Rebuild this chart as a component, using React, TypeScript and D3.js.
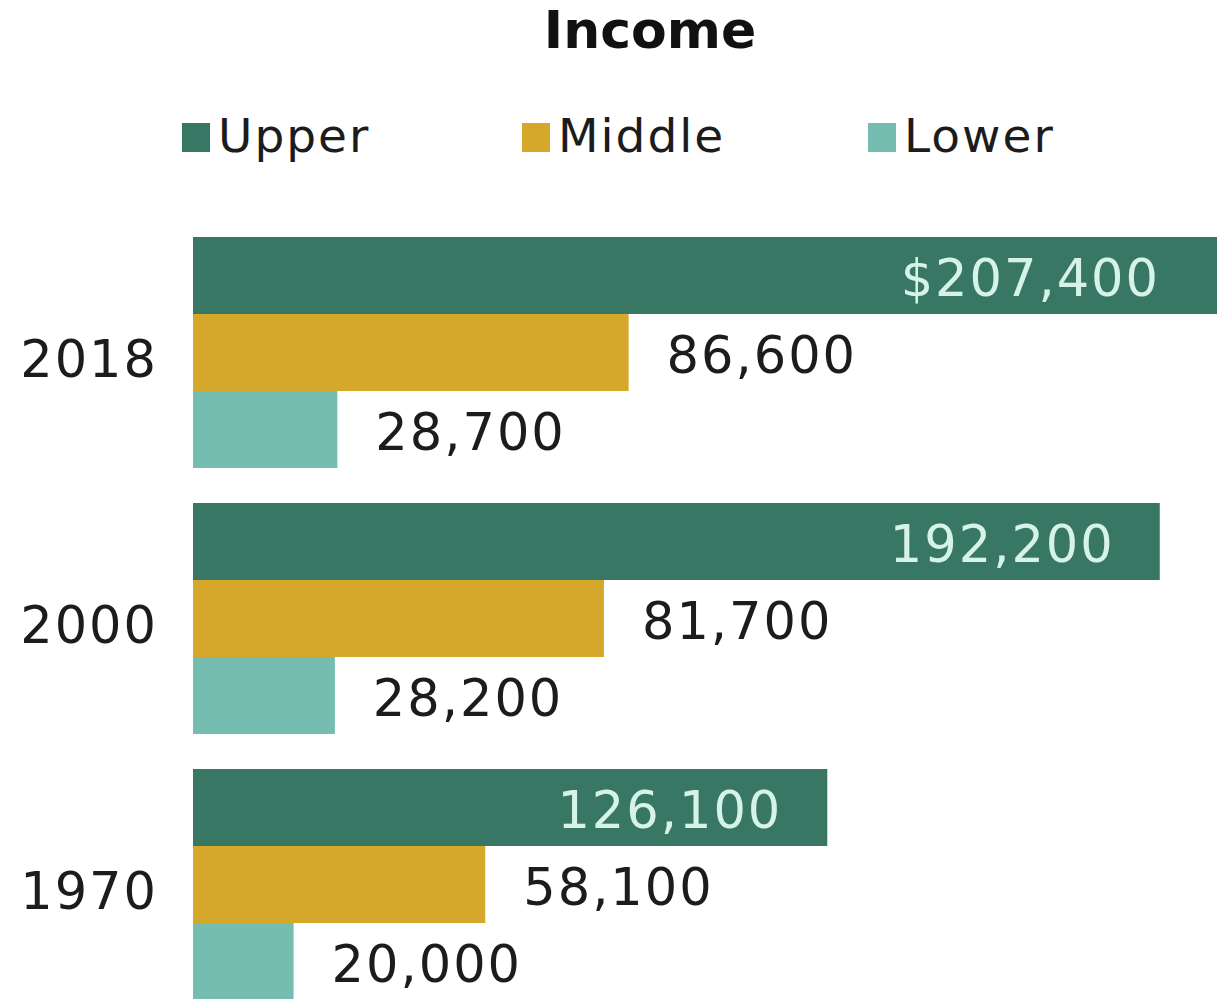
import React from "react";
import * as d3 from "d3";

const years = ["2018", "2000", "1970"];
const series = ["Upper", "Middle", "Lower"];
const upperValues = [207400, 192200, 126100];
const middleValues = [86600, 81700, 58100];
const lowerValues = [28700, 28200, 20000];
const upperLabels = ["$207,400", "192,200", "126,100"];
const middleLabels = ["86,600", "81,700", "58,100"];
const lowerLabels = ["28,700", "28,200", "20,000"];
const colors = ["#397765", "#d5a82b", "#74bdb0"];

const W = 1217;
const H = 999;
const FONT = "'DejaVu Sans', Verdana, sans-serif";

export default function App() {
  const x = d3.scaleLinear().domain([0, 200000]).range([193, 1199]);
  const y = d3
    .scaleBand<string>()
    .domain(years)
    .range([237, 237 + 3 * 266 - 35])
    .paddingInner(35 / 266)
    .paddingOuter(0);
  const inner = d3.scaleBand<string>().domain(series).range([0, y.bandwidth()]);

  const valuesBySeries = [upperValues, middleValues, lowerValues];
  const labelsBySeries = [upperLabels, middleLabels, lowerLabels];

  const legendX = [182, 522, 868];
  const visibleRight = 1205;

  return (
    <svg
      width={W}
      height={H}
      style={{ position: "absolute", left: 0, top: 0, display: "block", background: "#fff" }}
    >
      <text
        x={650}
        y={48}
        textAnchor="middle"
        fontFamily={FONT}
        fontWeight="bold"
        fontSize={52}
        fill="#111"
      >
        Income
      </text>

      {series.map((s, i) => (
        <g key={s} transform={`translate(${legendX[i]},0)`}>
          <rect x={0} y={123} width={28} height={29} fill={colors[i]} />
          <text
            x={36}
            y={152}
            fontFamily={FONT}
            fontSize={47}
            letterSpacing={2}
            fill="#1c1c1c"
          >
            {s}
          </text>
        </g>
      ))}

      {years.map((yr, gi) => {
        const gy = y(yr)!;
        return (
          <g key={yr}>
            <text
              x={158}
              y={gy + inner("Middle")! + inner.bandwidth() / 2 + 24}
              textAnchor="end"
              fontFamily={FONT}
              fontSize={51}
              letterSpacing={2}
              fill="#1c1c1c"
            >
              {yr}
            </text>
            {series.map((s, si) => {
              const v = valuesBySeries[si][gi];
              const by = gy + inner(s)!;
              const bh = inner.bandwidth();
              const x1 = x(v);
              const inside = si === 0;
              const labelX = inside ? Math.min(x1, visibleRight) - 45 : x1 + 38;
              return (
                <g key={s}>
                  <rect x={x(0)} y={by} width={x1 - x(0)} height={bh} fill={colors[si]} />
                  <text
                    x={labelX}
                    y={by + bh / 2 + 20}
                    textAnchor={inside ? "end" : "start"}
                    fontFamily={FONT}
                    fontSize={51}
                    letterSpacing={2}
                    fill={inside ? "#d6f3ea" : "#1c1c1c"}
                  >
                    {labelsBySeries[si][gi]}
                  </text>
                </g>
              );
            })}
          </g>
        );
      })}
    </svg>
  );
}
